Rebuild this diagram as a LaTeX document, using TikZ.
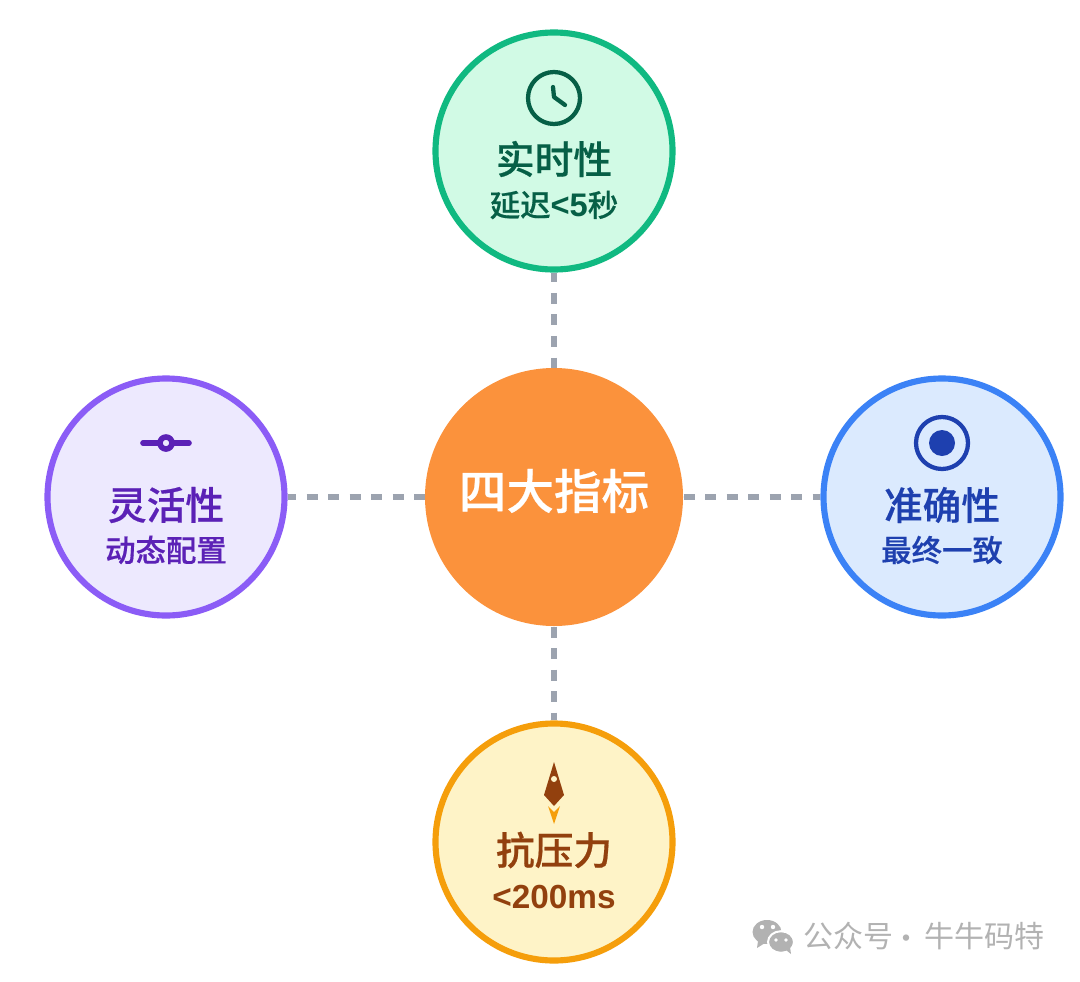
\documentclass[tikz,border=0pt]{standalone}
\usepackage{fontspec}
\newfontfamily\cjk{Noto Sans CJK SC}[BoldFont={Noto Sans CJK SC Medium},BoldFeatures={FakeBold=0.5}]
\newfontfamily\latn{Liberation Sans}
\definecolor{greenfill}{HTML}{D1FAE5}
\definecolor{greenline}{HTML}{10B981}
\definecolor{greentext}{HTML}{065F46}
\definecolor{bluefill}{HTML}{DBEAFE}
\definecolor{blueline}{HTML}{3B82F6}
\definecolor{bluetext}{HTML}{1E40AF}
\definecolor{purplefill}{HTML}{EDE9FE}
\definecolor{purpleline}{HTML}{8B5CF6}
\definecolor{purpletext}{HTML}{5B21B6}
\definecolor{amberfill}{HTML}{FEF3C7}
\definecolor{amberline}{HTML}{F59E0B}
\definecolor{ambertext}{HTML}{92400E}
\definecolor{hubfill}{HTML}{FB923C}
\definecolor{linkgrey}{HTML}{9CA3AF}
\definecolor{markgrey}{HTML}{B2B2B2}
\tikzset{every picture/.style={line width=0.75pt}}
\tikzset{
  metric/.style={circle,inner sep=0pt,minimum size=177.75pt,line width=4.6pt},
  hub/.style={circle,inner sep=0pt,minimum size=193.5pt,fill=hubfill},
  link/.style={linkgrey,line width=3.8pt,dash pattern=on 8.25pt off 7.9pt},
  titletext/.style={inner sep=0pt,font=\cjk\bfseries\fontsize{29}{30}\selectfont},
  subtext/.style={inner sep=0pt,font=\cjk\bfseries\fontsize{22.8}{24}\selectfont},
  marktext/.style={inner sep=0pt,markgrey,font=\cjk\fontsize{22.5}{24}\selectfont}
}
\begin{document}
\begin{tikzpicture}[x=0.75pt,y=0.75pt,yscale=-1,xscale=1]
\useasboundingbox (0,0) rectangle (1080,981);

%Shape: Circle
\node [metric,draw=greenline,fill=greenfill] (top) at (554,151) {};
\node [metric,draw=blueline,fill=bluefill] (right) at (942,497) {};
\node [metric,draw=purpleline,fill=purplefill] (left) at (166,497) {};
\node [metric,draw=amberline,fill=amberfill] (bottom) at (554,842) {};
\node [hub] (center) at (554,497) {};

%Straight Lines
\draw [link,dash phase=0.9pt] (top) -- (center);
\draw [link] (center) -- (right);
\draw [link,dash phase=1.9pt] (left) -- (center);
\draw [link] (center) -- (bottom);

% Text Node
\node [text=white,inner sep=0pt,font=\cjk\bfseries\fontsize{35.7}{38}\selectfont] (hubtitle) at (554,491) {四大指标};
\node [titletext,text=greentext] (toptitle) at (554,159) {实时性};
\node [subtext,text=greentext] (topsub) at (554,205) {延迟{\latn\bfseries\fontsize{24.5}{24}\selectfont<5}秒};
\node [titletext,text=bluetext] (righttitle) at (942,505) {准确性};
\node [subtext,text=bluetext] (rightsub) at (942,550) {最终一致};
\node [titletext,text=purpletext] (lefttitle) at (166,505) {灵活性};
\node [subtext,text=purpletext] (leftsub) at (166,550) {动态配置};
\node [titletext,text=ambertext] (bottomtitle) at (554,850) {抗压力};
\node [subtext,text=ambertext,font=\latn\bfseries\fontsize{25}{24}\selectfont] (bottomsub) at (554,897) {<200ms};

%Icon: clock
\draw [greentext,line width=3.2pt] (554,98) circle [radius=26];
\draw [greentext,line width=3.2pt,line cap=round,line join=round] (553,87) -- (554,97) -- (565,105);

%Icon: target
\draw [bluetext,line width=3.2pt] (942,443) circle [radius=26];
\fill [bluetext] (942,443) circle [radius=13];

%Icon: slider
\draw [purpletext,line width=4.2pt,line cap=round] (143,443) -- (189,443);
\draw [purpletext,fill=purplefill,line width=4.2pt] (166,443) circle [radius=6];

%Icon: rocket
\fill [amberline] (548,806) -- (554,812) -- (560,806) -- (554,824) -- cycle;
\fill [ambertext] (554,762) -- (564,795) -- (554,806) -- (544,795) -- cycle;
\fill [amberfill] (554,779) circle [radius=3];

%Watermark
\fill [markgrey] (767,932) ellipse [x radius=14.5,y radius=12];
\fill [markgrey] (758,941) -- (757,948) -- (765,943) -- cycle;
\fill [white] (762,927) circle [radius=2.2];
\fill [white] (773,927) circle [radius=2.2];
\draw [white,fill=markgrey,line width=1.5pt] (781,942) ellipse [x radius=13,y radius=10.8];
\fill [markgrey] (786,950) -- (791,954) -- (790,947) -- cycle;
\fill [white] (776,940) circle [radius=1.9];
\fill [white] (786,940) circle [radius=1.9];
\node [marktext,anchor=west] (markname) at (803,936) {公众号};
\node [marktext] (markdot) at (906,942) {·};
\node [marktext,anchor=east] (markbrand) at (1045,936) {牛牛码特};

\end{tikzpicture}
\end{document}
